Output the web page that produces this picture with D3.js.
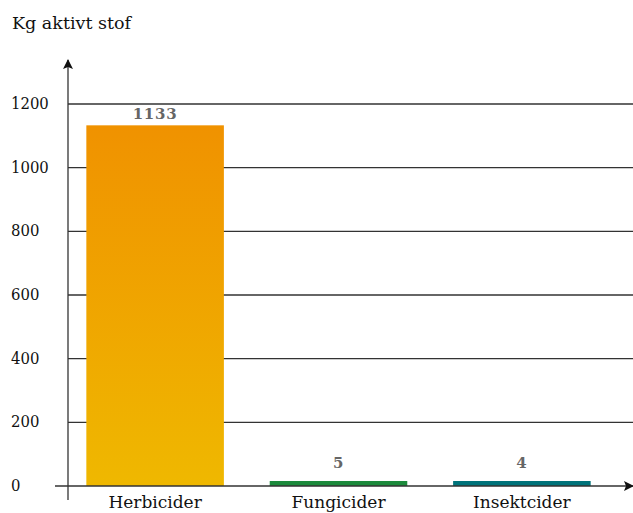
<!DOCTYPE html>
<html>
<head>
<meta charset="utf-8">
<script src="https://cdn.jsdelivr.net/npm/d3@7"></script>
<style>
  body { margin: 0; background: #fff; }
</style>
</head>
<body>
<svg width="633" height="513"></svg>
<script>
const categories = ["Herbicider", "Fungicider", "Insektcider"];
const values = [1133, 5, 4];
const yTicks = [0, 200, 400, 600, 800, 1000, 1200];
const yTitle = "Kg aktivt stof";

const svg = d3.select("svg");
const width = +svg.attr("width");

const x0 = 68, yBase = 486;
const serif = "'DejaVu Serif', serif";

const x = d3.scaleBand()
    .domain(categories)
    .range([x0, 609])
    .paddingInner(0.25)
    .paddingOuter(0.1);

const y = d3.scaleLinear()
    .domain([0, 1200])
    .range([yBase, 104]);

const defs = svg.append("defs");
const grad = defs.append("linearGradient")
    .attr("id", "herb")
    .attr("x1", 0).attr("y1", 0).attr("x2", 0).attr("y2", 1);
grad.append("stop").attr("offset", "0%").attr("stop-color", "#f09200");
grad.append("stop").attr("offset", "100%").attr("stop-color", "#efb800");

defs.append("marker")
    .attr("id", "arrow")
    .attr("viewBox", "0 0 10 10")
    .attr("refX", 9).attr("refY", 5)
    .attr("markerWidth", 10).attr("markerHeight", 10)
    .attr("markerUnits", "userSpaceOnUse")
    .attr("orient", "auto")
    .append("path")
    .attr("d", "M0,0 L10,5 L0,10 L2,5 Z")
    .attr("fill", "#111");

const fills = ["url(#herb)", "#1c8a3c", "#00737a"];

// gridlines
svg.append("g")
    .selectAll("line")
    .data(yTicks.filter(d => d > 0))
    .enter()
    .append("line")
    .attr("x1", x0).attr("x2", width)
    .attr("y1", d => y(d)).attr("y2", d => y(d))
    .attr("stroke", "#333")
    .attr("stroke-width", 1.3);

// tick labels
svg.append("g")
    .selectAll("text")
    .data(yTicks)
    .enter()
    .append("text")
    .attr("x", 11)
    .attr("y", d => y(d) + 5)
    .style("font-family", "'DejaVu Serif Condensed', 'DejaVu Serif', serif")
    .style("font-size", "16.5px")
    .attr("fill", "#111")
    .text(d => d);

svg.append("text")
    .attr("x", 12).attr("y", 29)
    .style("font-family", serif)
    .style("font-size", "17.5px")
    .attr("fill", "#111")
    .text(yTitle);

// bars
const barTop = d => Math.min(y(d), yBase - 5);

svg.append("g")
    .selectAll("rect")
    .data(values)
    .enter()
    .append("rect")
    .attr("x", (d, i) => x(categories[i]))
    .attr("width", x.bandwidth())
    .attr("y", barTop)
    .attr("height", d => yBase - barTop(d))
    .attr("fill", (d, i) => fills[i]);

// value labels
svg.append("g")
    .selectAll("text")
    .data(values)
    .enter()
    .append("text")
    .attr("x", (d, i) => x(categories[i]) + x.bandwidth() / 2)
    .attr("y", d => barTop(d) - (d > 100 ? 6 : 13))
    .attr("text-anchor", "middle")
    .style("font-family", serif)
    .style("font-weight", "bold")
    .style("font-size", "15px")
    .style("letter-spacing", "0.8px")
    .attr("fill", "#666")
    .text(d => d);

// category labels
svg.append("g")
    .selectAll("text")
    .data(categories)
    .enter()
    .append("text")
    .attr("x", d => x(d) + x.bandwidth() / 2)
    .attr("y", 508)
    .attr("text-anchor", "middle")
    .style("font-family", serif)
    .style("font-size", "17px")
    .attr("fill", "#111")
    .text(d => d);

// axes
svg.append("line")
    .attr("x1", 55).attr("x2", width)
    .attr("y1", yBase).attr("y2", yBase)
    .attr("stroke", "#333").attr("stroke-width", 1.3)
    .attr("marker-end", "url(#arrow)");

svg.append("line")
    .attr("x1", x0).attr("x2", x0)
    .attr("y1", 500).attr("y2", 60)
    .attr("stroke", "#333").attr("stroke-width", 1.3)
    .attr("marker-end", "url(#arrow)");
</script>
</body>
</html>
